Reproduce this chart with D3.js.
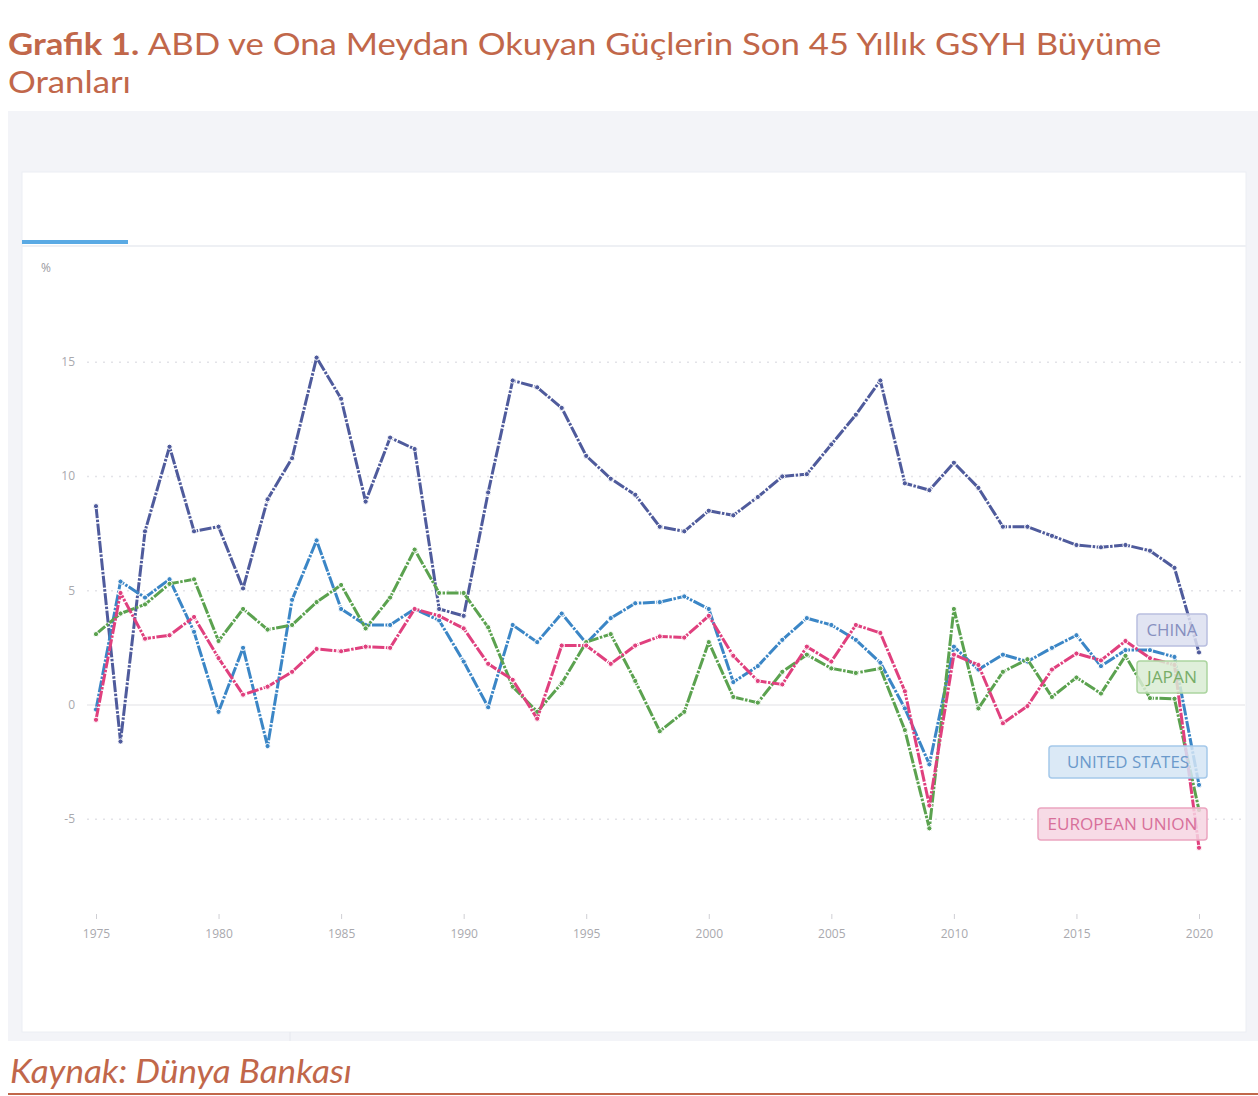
<!DOCTYPE html>
<html>
<head>
<meta charset="utf-8">
<script src="https://cdn.jsdelivr.net/npm/d3@7"></script>
<style>
  body { margin: 0; background: #fff; }
  svg { display: block; font-family: "Open Sans", sans-serif; }
</style>
</head>
<body>
<div id="chart"></div>
<script>
const years = d3.range(1975, 2021);
const yTicks = [-5, 0, 5, 10, 15];
const xTicks = [1975, 1980, 1985, 1990, 1995, 2000, 2005, 2010, 2015, 2020];

const china = [8.7, -1.6, 7.6, 11.3, 7.6, 7.8, 5.1, 9.0, 10.8, 15.2, 13.4, 8.9, 11.7, 11.2, 4.2, 3.9, 9.3,
  14.2, 13.9, 13.0, 10.9, 9.9, 9.2, 7.8, 7.6, 8.5, 8.3, 9.1, 10.0, 10.1, 11.4, 12.7, 14.2, 9.7, 9.4,
  10.6, 9.5, 7.8, 7.8, 7.4, 7.0, 6.9, 7.0, 6.75, 6.0, 2.3];
const usa = [-0.2, 5.4, 4.7, 5.5, 3.2, -0.3, 2.5, -1.8, 4.6, 7.2, 4.2, 3.5, 3.5, 4.2, 3.7, 1.9, -0.1,
  3.5, 2.75, 4.0, 2.7, 3.8, 4.45, 4.5, 4.75, 4.2, 1.0, 1.7, 2.85, 3.8, 3.5, 2.85, 1.85, -0.15,
  -2.6, 2.55, 1.55, 2.2, 1.9, 2.5, 3.05, 1.7, 2.4, 2.4, 2.1, -3.5];
const japan = [3.1, 4.0, 4.4, 5.3, 5.5, 2.8, 4.2, 3.3, 3.5, 4.5, 5.25, 3.35, 4.7, 6.8, 4.9, 4.9, 3.4,
  0.8, -0.3, 0.95, 2.75, 3.1, 1.05, -1.15, -0.3, 2.75, 0.35, 0.1, 1.45, 2.2, 1.6, 1.4, 1.6, -1.1,
  -5.4, 4.2, -0.15, 1.45, 2.0, 0.35, 1.2, 0.5, 2.15, 0.3, 0.27, -4.6];
const eu = [-0.65, 4.9, 2.9, 3.05, 3.85, 2.05, 0.45, 0.8, 1.45, 2.45, 2.35, 2.55, 2.5, 4.2, 3.9, 3.35, 1.8,
  1.1, -0.6, 2.6, 2.6, 1.8, 2.6, 3.0, 2.95, 3.9, 2.15, 1.05, 0.9, 2.55, 1.9, 3.5, 3.15, 0.6,
  -4.4, 2.2, 1.75, -0.8, -0.05, 1.55, 2.25, 1.95, 2.8, 2.05, 1.75, -6.25];

const seriesNames = ["CHINA", "UNITED STATES", "JAPAN", "EUROPEAN UNION"];
const seriesValues = [china, usa, japan, eu];

const width = 1258, height = 1096;
const brown = "#c1674a";

let svg = d3.select("#chart").append("svg")
  .attr("width", width)
  .attr("height", height);

// title
let title = svg.append("g").attr("font-family", "Lato, sans-serif");
let t1 = title.append("text").attr("y", 55).attr("font-size", 31).attr("fill", brown);
t1.append("tspan").attr("font-weight", "bold").text("Grafik 1. ");
t1.append("tspan").text("ABD ve Ona Meydan Okuyan Güçlerin Son 45 Yıllık GSYH Büyüme");
title.append("text").attr("y", 93).attr("font-size", 31).attr("fill", brown).text("Oranları");
let sx = 1154 / t1.node().getComputedTextLength();
title.attr("transform", `translate(8,0) scale(${sx},1)`);

// panel
svg.append("rect").attr("x", 8).attr("y", 111).attr("width", 1250).attr("height", 930).attr("fill", "#f3f4f8");
svg.append("rect").attr("x", 22).attr("y", 172).attr("width", 1224).attr("height", 860)
  .attr("fill", "#fff").attr("stroke", "#eceef3");
svg.append("line").attr("x1", 22).attr("x2", 1246).attr("y1", 246).attr("y2", 246)
  .attr("stroke", "#eef0f4").attr("stroke-width", 2);
svg.append("rect").attr("x", 22).attr("y", 240).attr("width", 106).attr("height", 4).attr("fill", "#5aaae4");
svg.append("line").attr("x1", 290).attr("x2", 290).attr("y1", 1032).attr("y2", 1041).attr("stroke", "#e6e8ee");

let x = d3.scaleLinear().domain([1975, 2020]).range([96, 1199]);
let y = d3.scaleLinear().domain([-5, 15]).range([819.2, 362.2]);

// y grid + labels
let grid = svg.append("g");
grid.selectAll("line").data(yTicks).enter().append("line")
  .attr("x1", 87).attr("x2", 1245)
  .attr("y1", d => y(d)).attr("y2", d => y(d))
  .attr("stroke", d => d === 0 ? "#f0f0f2" : "#e3e3e8")
  .attr("stroke-width", d => d === 0 ? 2 : 1.5)
  .attr("stroke-dasharray", d => d === 0 ? null : "2,6");
grid.selectAll("text").data(yTicks).enter().append("text")
  .attr("x", 75).attr("y", d => y(d) + 4)
  .attr("text-anchor", "end").attr("font-size", 12).attr("fill", "#a9a9ae")
  .text(d => d);
svg.append("text").attr("x", 46).attr("y", 272).attr("text-anchor", "middle")
  .attr("font-size", 12).attr("fill", "#9a9aa0").text("%");

// x axis
let xa = svg.append("g").attr("transform", "translate(0,914)")
  .call(d3.axisBottom(x).tickValues(xTicks).tickFormat(d3.format("d")).tickSize(5).tickPadding(10));
xa.select(".domain").remove();
xa.selectAll("line").attr("stroke", "#cfcfd4");
xa.selectAll("text").attr("font-size", 12).attr("fill", "#a9a9ae").attr("font-family", "Open Sans, sans-serif");

const colors = d3.scaleOrdinal().domain(seriesNames).range(["#4f5b9c", "#3b86c6", "#5ba24f", "#e0407e"]);

let line = d3.line().x((d, i) => x(years[i])).y(d => y(d));

let series = svg.append("g").selectAll("g")
  .data(seriesNames.map((n, i) => ({ name: n, values: seriesValues[i] })))
  .enter().append("g");

series.append("path")
  .attr("d", d => line(d.values))
  .attr("fill", "none")
  .attr("stroke", d => colors(d.name))
  .attr("stroke-width", 3)
  .attr("stroke-linejoin", "round")
  .attr("stroke-dasharray", "12,1.5,2.5,1.5");

series.selectAll("circle")
  .data(d => d.values.map((v, i) => ({ v: v, i: i, name: d.name })))
  .enter().append("circle")
  .attr("cx", d => x(years[d.i]))
  .attr("cy", d => y(d.v))
  .attr("r", 2.6)
  .attr("fill", d => colors(d.name))
  .attr("stroke", "#fff")
  .attr("stroke-width", 1);

// end labels
const labelBoxes = [
  { name: "CHINA", x: 1137, y: 614, w: 70, tl: 51, fill: "#dcdff0", stroke: "#b9bfe0", text: "#8790c0" },
  { name: "JAPAN", x: 1137, y: 661, w: 70, tl: 50, fill: "#d9ecd4", stroke: "#acd5a0", text: "#78ad68" },
  { name: "UNITED STATES", x: 1049, y: 746, w: 158, tl: 122, fill: "#d5e5f5", stroke: "#a5c9ea", text: "#6b9acb" },
  { name: "EUROPEAN UNION", x: 1038, y: 808, w: 169, tl: 150, fill: "#f6d5e2", stroke: "#eba5c0", text: "#d8709a" }
];

let labels = svg.append("g").selectAll("g").data(labelBoxes).enter().append("g");
labels.append("rect")
  .attr("x", d => d.x).attr("y", d => d.y).attr("width", d => d.w).attr("height", 32)
  .attr("rx", 3)
  .attr("fill", d => d.fill).attr("fill-opacity", 0.85)
  .attr("stroke", d => d.stroke).attr("stroke-width", 1.5);
labels.append("text")
  .attr("x", d => d.x + d.w / 2).attr("y", d => d.y + 22)
  .attr("text-anchor", "middle").attr("font-size", 17)
  .attr("textLength", d => d.tl).attr("lengthAdjust", "spacingAndGlyphs")
  .attr("fill", d => d.text)
  .text(d => d.name);

// source
let src = svg.append("text").attr("y", 1083).attr("font-size", 33)
  .attr("font-family", "Lato, sans-serif")
  .attr("font-style", "italic").attr("fill", brown).text("Kaynak: Dünya Bankası");
let sx2 = 342 / src.node().getComputedTextLength();
src.attr("transform", `translate(10,0) scale(${sx2},1)`);
svg.append("line").attr("x1", 8).attr("x2", 1258).attr("y1", 1094).attr("y2", 1094)
  .attr("stroke", brown).attr("stroke-width", 2);
</script>
</body>
</html>
